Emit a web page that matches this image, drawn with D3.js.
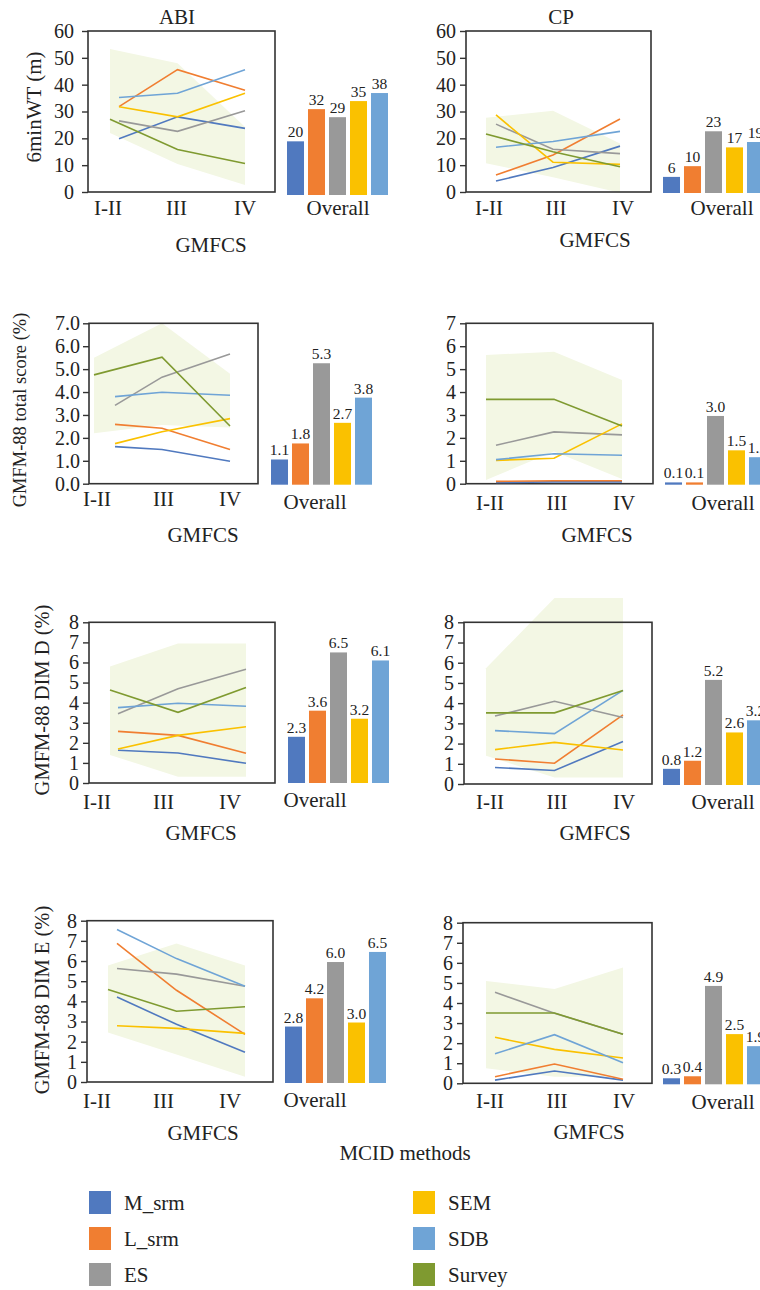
<!DOCTYPE html>
<meta charset="utf-8">
<style>
body { margin: 0; background: #fff; }
text { font-family: "Liberation Serif", "Times New Roman", serif; fill: #222; }
.box { fill: none; stroke: #333; stroke-width: 1.6px; }
.axis path { display: none; }
.axis line { stroke: #333; stroke-width: 1.4px; }
.axis text { font-family: "Liberation Serif", serif; font-size: 20px; fill: #222; }
</style>
<body>
<script src="https://cdn.jsdelivr.net/npm/d3@7"></script>
<script>

var width = 760;
var height = 1290;

// categories
const gmfcs = ["I-II", "III", "IV"];
const methods = ["M_srm", "L_srm", "ES", "SEM", "SDB", "Survey"];
const colors = ["#5079bf", "#f07e31", "#999999", "#fac100", "#6fa4d6", "#7f9a30"];

// 6minWT (m) - lines in method order, band = [upper, lower], overall bars
const abi6mwtLines = [[19.8, 28.0, 23.7], [31.8, 45.6, 37.9], [26.5, 22.6, 30.3], [31.8, 28.0, 36.8], [35.2, 36.8, 45.6], [27.1, 15.8, 10.6]];
const abi6mwtBand = [[53.3, 48.0, 24.2], [22.0, 10.4, 2.6]];
const abi6mwtOverall = [20, 32, 29, 35, 38];

const cp6mwtLines = [[4.1, 9.1, 17.1], [6.3, 13.8, 27.2], [25.3, 15.9, 14.3], [28.7, 11.1, 10.3], [16.7, 18.8, 22.6], [21.6, 15.0, 9.4]];
const cp6mwtBand = [[27.7, 30.3, 18.1], [10.7, 5.5, -0.3]];
const cp6mwtOverall = [6, 10, 23, 17, 19];

// GMFM-88 total score (%)
const abiTotalLines = [[1.62, 1.49, 0.98], [2.59, 2.42, 1.49], [3.42, 4.65, 5.66], [1.75, 2.27, 2.84], [3.8, 3.99, 3.86], [4.75, 5.52, 2.52]];
const abiTotalBand = [[5.5, 7.0, 4.8], [2.2, 2.56, 2.45]];
const abiTotalOverall = [1.1, 1.8, 5.3, 2.7, 3.8];

const cpTotalLines = [[0.05, 0.08, 0.08], [0.1, 0.13, 0.13], [1.68, 2.26, 2.13], [1.02, 1.11, 2.61], [1.05, 1.31, 1.24], [3.68, 3.68, 2.52]];
const cpTotalBand = [[5.62, 5.76, 4.53], [0.16, 1.4, 0.2]];
const cpTotalOverall = [0.1, 0.1, 3.0, 1.5, 1.2];

// GMFM-88 DIM D (%)
const abiDimDLines = [[1.63, 1.49, 0.98], [2.57, 2.37, 1.48], [3.45, 4.69, 5.66], [1.69, 2.37, 2.8], [3.75, 3.97, 3.82], [4.63, 3.52, 4.76]];
const abiDimDBand = [[5.8, 6.95, 6.95], [1.4, 0.31, 0.31]];
const abiDimDOverall = [2.3, 3.6, 6.5, 3.2, 6.1];

const cpDimDLines = [[0.82, 0.67, 2.1], [1.24, 1.03, 3.42], [3.36, 4.09, 3.29], [1.7, 2.06, 1.68], [2.64, 2.49, 4.63], [3.52, 3.52, 4.63]];
const cpDimDBand = [[5.73, 9.2, 9.2], [1.4, 0.32, 0.32]];
const cpDimDOverall = [0.8, 1.2, 5.2, 2.6, 3.2];

// GMFM-88 DIM E (%)
const abiDimELines = [[4.22, 2.86, 1.47], [6.87, 4.55, 2.36], [5.63, 5.35, 4.75], [2.79, 2.66, 2.41], [7.56, 6.12, 4.75], [4.59, 3.51, 3.73]];
const abiDimEBand = [[5.78, 6.87, 5.78], [2.46, 1.37, 0.26]];
const abiDimEOverall = [2.8, 4.2, 6.0, 3.0, 6.5];

const cpDimELines = [[0.16, 0.61, 0.16], [0.33, 0.96, 0.2], [4.53, 3.49, 2.44], [2.29, 1.69, 1.26], [1.47, 2.42, 1.02], [3.5, 3.5, 2.44]];
const cpDimEBand = [[5.1, 4.7, 5.77], [0.75, 0.33, 0.33]];
const cpDimEOverall = [0.3, 0.4, 4.9, 2.5, 1.9];

var svg = d3.select("body").append("svg")
    .attr("width", width)
    .attr("height", height);

// panel placement (the figure is a pasted composite so every panel sits a bit differently)
var panels = [
  {lines: abi6mwtLines, band: abi6mwtBand, overall: abi6mwtOverall, box: [88, 275, 31, 192], yMax: 60, step: 10, fmt: "d", barFmt: "d",
   bandX: [110, 245], lineStart: 119, labelX: [108, 245], catY: 208, barX: 287, barShift: 3, overallXY: [338, 208], gmfcsXY: [211, 245], pad: 8},
  {lines: cp6mwtLines, band: cp6mwtBand, overall: cp6mwtOverall, box: [466, 651, 31, 192], yMax: 60, step: 10, fmt: "d", barFmt: "d",
   bandX: [486, 620], lineStart: 496, labelX: [489, 623], catY: 208, barX: 663, barShift: 1, overallXY: [722, 208], gmfcsXY: [595, 240], pad: 4},
  {lines: abiTotalLines, band: abiTotalBand, overall: abiTotalOverall, box: [89, 258, 323.3, 483.7], yMax: 7, step: 1, fmt: ".1f", barFmt: ".1f",
   bandX: [94, 230], lineStart: 115, labelX: [97, 230], catY: 499, barX: 271, barShift: 1, overallXY: [315, 502], gmfcsXY: [203, 535], pad: 3},
  {lines: cpTotalLines, band: cpTotalBand, overall: cpTotalOverall, box: [466, 653, 323.3, 483.7], yMax: 7, step: 1, fmt: "d", barFmt: ".1f",
   bandX: [486, 622], lineStart: 496, labelX: [490, 624], catY: 503, barX: 665, barShift: 1, overallXY: [723, 503], gmfcsXY: [597, 535], pad: 4},
  {lines: abiDimDLines, band: abiDimDBand, overall: abiDimDOverall, box: [89, 275, 622.3, 783], yMax: 8, step: 1, fmt: "d", barFmt: ".1f",
   bandX: [110, 246], lineStart: 118, labelX: [97, 230], catY: 802, barX: 288, barShift: 0, overallXY: [315, 800], gmfcsXY: [201, 833], pad: 4},
  {lines: cpDimDLines, band: cpDimDBand, overall: cpDimDOverall, box: [464, 652, 622.3, 784], yMax: 8, step: 1, fmt: "d", barFmt: ".1f",
   bandX: [486, 623], lineStart: 495, labelX: [490, 624], catY: 802, barX: 663, barShift: 1, overallXY: [723, 802], gmfcsXY: [595, 833], pad: 4},
  {lines: abiDimELines, band: abiDimEBand, overall: abiDimEOverall, box: [87, 273, 920.7, 1082], yMax: 8, step: 1, fmt: "d", barFmt: ".1f",
   bandX: [108, 245], lineStart: 117, labelX: [97, 230], catY: 1101, barX: 285, barShift: 1, overallXY: [315, 1100], gmfcsXY: [203, 1133], pad: 4},
  {lines: cpDimELines, band: cpDimEBand, overall: cpDimEOverall, box: [463, 652, 922.7, 1083.3], yMax: 8, step: 1, fmt: "d", barFmt: ".1f",
   bandX: [486, 623], lineStart: 495, labelX: [490, 624], catY: 1101, barX: 663, barShift: 1, overallXY: [723, 1102], gmfcsXY: [589, 1132], pad: 4}
];

panels.forEach(function(p) {
  var g = svg.append("g");
  var y = d3.scaleLinear().domain([0, p.yMax]).range([p.box[3], p.box[2]]);
  var x = d3.scalePoint().domain(gmfcs).range(p.bandX);
  var xl = d3.scalePoint().domain(gmfcs).range(p.labelX);

  // shaded band behind the lines
  var area = d3.area()
      .x(function(d, i) { return x(gmfcs[i]); })
      .y0(function(d, i) { return y(p.band[1][i]); })
      .y1(function(d) { return y(d); });
  g.append("path")
      .datum(p.band[0])
      .attr("d", area)
      .attr("fill", "#f3f7e4");

  g.append("rect")
      .attr("class", "box")
      .attr("x", p.box[0])
      .attr("y", p.box[2])
      .attr("width", p.box[1] - p.box[0])
      .attr("height", p.box[3] - p.box[2]);

  var yAxis = d3.axisLeft(y)
      .tickValues(d3.range(0, p.yMax + 0.001, p.step))
      .tickFormat(d3.format(p.fmt))
      .tickSize(6)
      .tickPadding(p.pad);
  g.append("g")
      .attr("class", "axis")
      .attr("transform", "translate(" + p.box[0] + ",0)")
      .call(yAxis);

  // lines; method lines start a little right of the survey line
  var line = d3.line()
      .x(function(d) { return d[0]; })
      .y(function(d) { return y(d[1]); });
  p.lines.forEach(function(vals, m) {
    var pts = vals.map(function(v, i) {
      var xx = x(gmfcs[i]);
      if (i == 0 && m < 5) xx = p.lineStart;
      return [xx, v];
    });
    g.append("path")
        .datum(pts)
        .attr("d", line)
        .attr("fill", "none")
        .attr("stroke", colors[m])
        .attr("stroke-width", 1.6);
  });

  g.selectAll(".cat")
      .data(gmfcs)
      .enter().append("text")
      .attr("x", function(d) { return xl(d); })
      .attr("y", p.catY)
      .attr("dy", "0.35em")
      .attr("text-anchor", "middle")
      .attr("font-size", 21)
      .text(function(d) { return d; });

  g.append("text")
      .attr("x", p.gmfcsXY[0])
      .attr("y", p.gmfcsXY[1])
      .attr("dy", "0.35em")
      .attr("text-anchor", "middle")
      .attr("font-size", 21)
      .text("GMFCS");

  // overall bars
  var xb = d3.scaleBand().domain(methods.slice(0, 5)).range([p.barX, p.barX + 101]).paddingInner(0.19);
  var bars = g.selectAll(".bar")
      .data(p.overall)
      .enter();
  bars.append("rect")
      .attr("x", function(d, i) { return xb(methods[i]); })
      .attr("y", function(d) { return y(d) + p.barShift; })
      .attr("width", xb.bandwidth())
      .attr("height", function(d) { return y(0) - y(d); })
      .attr("fill", function(d, i) { return colors[i]; });
  bars.append("text")
      .attr("x", function(d, i) { return xb(methods[i]) + xb.bandwidth() / 2; })
      .attr("y", function(d) { return y(d) + p.barShift - 4; })
      .attr("text-anchor", "middle")
      .attr("font-size", 15.5)
      .text(function(d) { return d3.format(p.barFmt)(d); });

  g.append("text")
      .attr("x", p.overallXY[0])
      .attr("y", p.overallXY[1])
      .attr("dy", "0.35em")
      .attr("text-anchor", "middle")
      .attr("font-size", 21)
      .text("Overall");
});

// column titles
svg.append("text").attr("x", 177).attr("y", 17).attr("dy", "0.35em")
    .attr("text-anchor", "middle").attr("font-size", 21).text("ABI");
svg.append("text").attr("x", 561).attr("y", 17).attr("dy", "0.35em")
    .attr("text-anchor", "middle").attr("font-size", 21).text("CP");

// row titles (y axis labels)
var yTitles = [
  {text: "6minWT (m)", x: 34, y: 107, size: 21},
  {text: "GMFM-88 total score (%)", x: 20, y: 410, size: 18.5},
  {text: "GMFM-88 DIM D (%)", x: 42, y: 700, size: 20.5},
  {text: "GMFM-88 DIM E (%)", x: 42, y: 1000, size: 20.5}
];
svg.selectAll(".ytitle")
    .data(yTitles)
    .enter().append("text")
    .attr("transform", function(d) { return "translate(" + d.x + "," + d.y + ") rotate(-90)"; })
    .attr("dy", "0.35em")
    .attr("text-anchor", "middle")
    .attr("font-size", function(d) { return d.size; })
    .text(function(d) { return d.text; });

svg.append("text").attr("x", 405).attr("y", 1153).attr("dy", "0.35em")
    .attr("text-anchor", "middle").attr("font-size", 21).text("MCID methods");

// legend, two columns of three
var legend = svg.selectAll(".legend")
    .data(methods)
    .enter().append("g")
    .attr("transform", function(d, i) {
      return "translate(" + (i < 3 ? 89 : 413) + "," + (1191 + (i % 3) * 36) + ")";
    });
legend.append("rect")
    .attr("width", 22)
    .attr("height", 23)
    .attr("fill", function(d, i) { return colors[i]; });
legend.append("text")
    .attr("x", 35)
    .attr("y", 11.5)
    .attr("dy", "0.35em")
    .attr("font-size", 21)
    .text(function(d) { return d; });

</script>
</body>
</html>
